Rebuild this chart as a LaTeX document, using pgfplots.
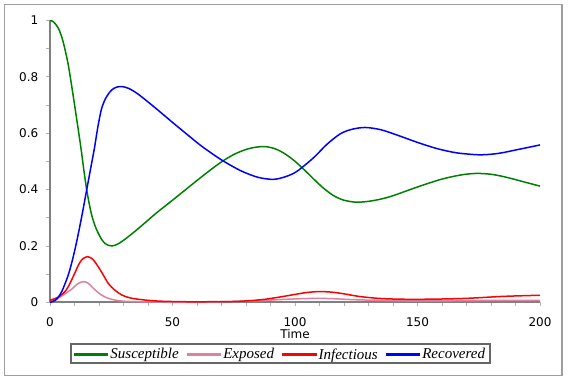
\documentclass[border=0pt]{standalone}
\usepackage{fontspec}
\setmainfont{DejaVu Sans}
\newfontfamily\legfont{Liberation Serif}
\usepackage{pgfplots}
\pgfplotsset{compat=1.18}
\definecolor{sgreen}{RGB}{0,128,0}
\definecolor{epink}{RGB}{224,128,160}
\definecolor{ired}{RGB}{255,0,0}
\definecolor{rblue}{RGB}{0,0,255}
\begin{document}
\begin{tikzpicture}[x=1pt,y=1pt]
\useasboundingbox (0,0) rectangle (568,381);
\draw[black!38, line width=1.5pt] (4.5,5.5) rectangle (562,376.5);
\draw[black!60, line width=1.5pt] (70.8,17.8) rectangle (490.2,37.0);
\begin{axis}[
  at={(50pt,78.7pt)}, anchor=south west,
  scale only axis, width=490pt, height=282pt,
  xmin=0, xmax=200, ymin=0, ymax=1,
  axis lines=left,
  axis line style={-, black!50, line width=1.8pt},
  xtick={0,50,...,200}, minor xtick={10,20,...,190},
  ytick={0,0.2,...,1}, minor ytick={0.1,0.3,...,0.9},
  tick align=outside,
  major tick length=3.5pt, minor tick length=3.5pt,
  every tick/.style={black!30, line width=0.8pt},
  /pgf/number format/assume math mode=true,
  tick label style={font=\fontsize{12}{14}\selectfont},
  yticklabel style={anchor=east, inner sep=0pt, xshift=-8pt},
  xticklabel style={anchor=north, inner sep=0pt, yshift=-12pt},
  xlabel={Time},
  xlabel style={at={(axis description cs:0.5,0)}, anchor=base, inner sep=0pt, yshift=-36pt, font=\fontsize{12}{14}\selectfont},
  legend columns=4,
  legend style={at={(axis description cs:0.4704,-0.1454)}, anchor=north,
    draw=none, fill=none, inner xsep=2pt, inner ysep=3pt,
    font=\legfont\itshape\fontsize{15}{17}\selectfont,
    /tikz/every even column/.append style={column sep=6pt}},
  every axis plot/.append style={line width=1.5pt, smooth, tension=0.5},
]
\addplot[draw=sgreen, legend image code/.code={\fill[sgreen] (0pt,-0.8pt) rectangle (33pt,0.8pt);}] coordinates {
(0,1.0) (1.5,0.994) (3.4,0.972) (5,0.935) (6.3,0.89) (7.5,0.84) (8.8,0.77) (10.2,0.69) (11.4,0.62) (12.65,0.546) (13.8,0.47) (15,0.398) (16,0.35) (17,0.31) (18.3,0.273) (19.7,0.245) (21,0.224) (22.4,0.209) (23.8,0.202) (25.2,0.2) (26.8,0.203) (28.5,0.211) (30.2,0.221) (32,0.233) (35,0.254) (38.8,0.282) (42.9,0.313) (46.5,0.338) (50,0.362) (55,0.397) (60,0.432) (65,0.466) (70,0.498) (75,0.524) (80,0.542) (84,0.55) (88,0.552) (92,0.544) (96,0.526) (100,0.5) (104,0.468) (108,0.434) (112,0.402) (116,0.377) (120,0.362) (125,0.355) (130,0.358) (135,0.366) (140,0.378) (150,0.409) (160,0.437) (168,0.452) (174,0.457) (180,0.454) (186,0.444) (193,0.428) (200,0.412)
};
\addlegendentry{Susceptible}
\addplot[draw=epink, legend image code/.code={\fill[epink] (0pt,-0.8pt) rectangle (33pt,0.8pt);}] coordinates {
(0,0.005) (2,0.01) (4,0.018) (6.1,0.03) (8.8,0.046) (11,0.064) (13.3,0.073) (15.5,0.068) (18.4,0.044) (20.5,0.029) (22.4,0.019) (25,0.011) (27.8,0.006) (32,0.003) (40,0.0015) (50,0.001) (60,0.001) (70,0.002) (80,0.004) (90,0.008) (100,0.012) (108,0.014) (115,0.013) (125,0.009) (140,0.006) (155,0.005) (170,0.006) (185,0.007) (200,0.007)
};
\addlegendentry{Exposed}
\addplot[draw=ired, legend image code/.code={\fill[ired] (0pt,-0.8pt) rectangle (33pt,0.8pt);}] coordinates {
(0,0.008) (2,0.013) (4,0.022) (6.1,0.038) (7.5,0.056) (8.8,0.079) (10.2,0.105) (11.6,0.132) (13.2,0.153) (15.4,0.162) (17.5,0.152) (19.7,0.126) (21.8,0.096) (23.8,0.067) (26.5,0.043) (29.3,0.026) (33,0.015) (38.8,0.008) (45,0.004) (55,0.002) (65,0.002) (75,0.003) (82,0.006) (88,0.011) (94,0.019) (100,0.028) (105,0.035) (110,0.038) (115,0.036) (120,0.03) (126,0.021) (134,0.014) (143,0.011) (155,0.011) (170,0.014) (185,0.021) (200,0.025)
};
\addlegendentry{Infectious}
\addplot[draw=rblue, legend image code/.code={\fill[rblue] (0pt,-0.8pt) rectangle (33pt,0.8pt);}] coordinates {
(0,0) (2,0.006) (3.4,0.018) (4.8,0.038) (6.1,0.065) (7.5,0.098) (8.8,0.138) (10.2,0.188) (11.6,0.245) (13.3,0.32) (15,0.4) (16.6,0.475) (18.1,0.545) (19.6,0.625) (21.1,0.688) (23,0.728) (25.2,0.753) (27.2,0.763) (29.3,0.765) (32,0.759) (36,0.738) (42.9,0.69) (50,0.638) (56,0.595) (62,0.553) (70,0.505) (78,0.466) (85,0.443) (91.2,0.436) (96,0.445) (100,0.46) (103,0.479) (108,0.516) (113,0.56) (118.4,0.597) (123,0.613) (128.6,0.62) (135,0.612) (142,0.592) (150,0.567) (158,0.545) (166,0.53) (175.5,0.523) (183,0.528) (190,0.54) (200,0.558)
};
\addlegendentry{Recovered}
\end{axis}
\end{tikzpicture}
\end{document}
